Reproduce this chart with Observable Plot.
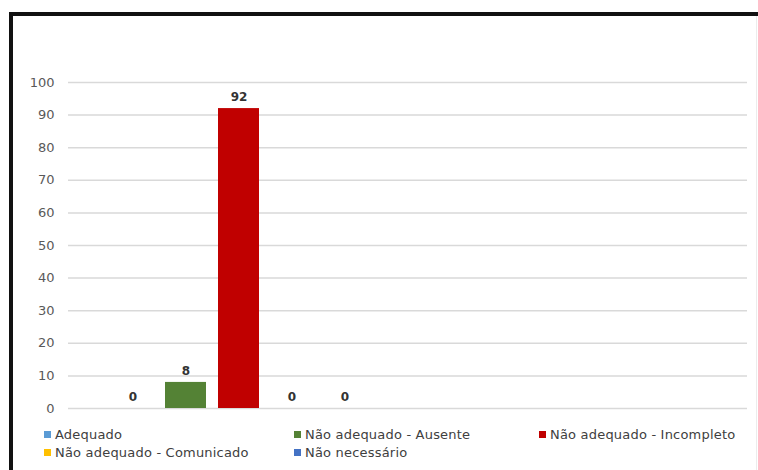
<!DOCTYPE html>
<html>
<head>
<meta charset="utf-8">
<script src="https://cdn.jsdelivr.net/npm/d3@7"></script>
<script src="https://cdn.jsdelivr.net/npm/@observablehq/plot@0.6"></script>
<style>
  html, body { margin: 0; padding: 0; background: #fff; }
  body { width: 758px; height: 470px; position: relative; overflow: hidden; font-family: "DejaVu Sans", sans-serif; }
  #chart { position: absolute; left: 0; top: 0; }
  #frame { position: absolute; left: 9px; top: 12px; width: 760px; height: 470px;
           border-top: 4px solid #111; border-left: 4px solid #111; pointer-events: none; }
  #vline { position: absolute; left: 756px; top: 16px; width: 1px; height: 454px; background: #ececec; }
  #legend { position: absolute; left: 44px; top: 426px; display: grid;
            grid-template-columns: 250px 245px 215px; row-gap: 2px; font-size: 13px; letter-spacing: 0.2px; color: #404040; }
  .item { display: flex; align-items: center; height: 16px; white-space: nowrap; }
  .sw { width: 7px; height: 7px; margin-right: 4px; flex: none; }
</style>
</head>
<body>
<div id="chart"></div>
<div id="frame"></div>
<div id="vline"></div>
<div id="legend"></div>
<script>
const series = ["Adequado", "Não adequado - Ausente", "Não adequado - Incompleto", "Não adequado - Comunicado", "Não necessário"];
const values = [0, 8, 92, 0, 0];
const colors = ["#5b9bd5", "#548235", "#c00000", "#ffc000", "#4472c4"];
const yTicks = [0, 10, 20, 30, 40, 50, 60, 70, 80, 90, 100];

const data = series.map((s, i) => ({series: s, value: values[i]}));

const plot = Plot.plot({
  width: 758,
  height: 420,
  marginLeft: 68,
  marginRight: 11,
  marginTop: 82,
  marginBottom: 12,
  style: {fontFamily: "DejaVu Sans, sans-serif", fontSize: "13px", color: "#595959", background: "transparent"},
  x: {domain: series, range: [112, 366], paddingInner: 0.22, paddingOuter: 0, axis: null},
  y: {domain: [0, 100], ticks: yTicks, tickSize: 0, tickPadding: 14, label: null},
  color: {domain: series, range: colors},
  marks: [
    Plot.gridY(yTicks, {stroke: "#d9d9d9", strokeOpacity: 1, strokeWidth: 1.5}),
    Plot.barY(data, {x: "series", y: "value", fill: "series"}),
    Plot.text(data, {x: "series", y: "value", text: d => String(d.value), dy: -11, fontWeight: "bold", fill: "#333", fontSize: 12})
  ]
});
document.getElementById("chart").appendChild(plot);

const legend = document.getElementById("legend");
series.forEach((s, i) => {
  const item = document.createElement("div");
  item.className = "item";
  const sw = document.createElement("span");
  sw.className = "sw";
  sw.style.background = colors[i];
  const t = document.createElement("span");
  t.textContent = s;
  item.appendChild(sw);
  item.appendChild(t);
  legend.appendChild(item);
});
</script>
</body>
</html>
